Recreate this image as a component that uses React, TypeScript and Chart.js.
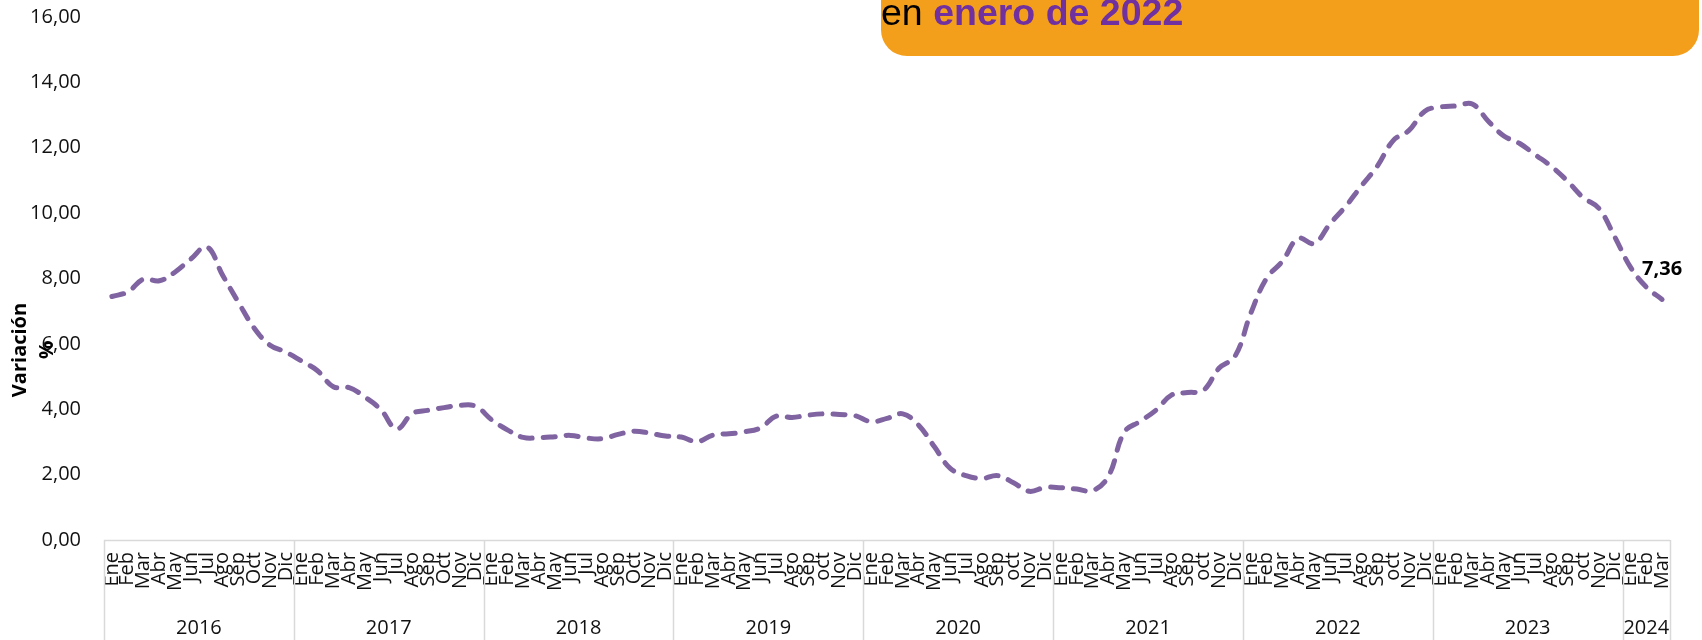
import React, { useEffect, useRef } from "react";
import { Chart, registerables } from "chart.js";

Chart.register(...registerables);

const MONTHS_UPPER_OCT = ["Ene", "Feb", "Mar", "Abr", "May", "Jun", "Jul", "Ago", "Sep", "Oct", "Nov", "Dic"];
const MONTHS_LOWER_OCT = ["Ene", "Feb", "Mar", "Abr", "May", "Jun", "Jul", "Ago", "Sep", "oct", "Nov", "Dic"];
const MONTHS_2024 = ["Ene", "Feb", "Mar"];

const YEARS = ["2016", "2017", "2018", "2019", "2020", "2021", "2022", "2023", "2024"];

const v2016 = [7.45, 7.59, 7.98, 7.93, 8.2, 8.6, 8.97, 8.1, 7.27, 6.48, 5.96, 5.75];
const v2017 = [5.47, 5.18, 4.69, 4.66, 4.37, 3.99, 3.4, 3.87, 3.97, 4.05, 4.12, 4.09];
const v2018 = [3.68, 3.37, 3.14, 3.13, 3.16, 3.2, 3.12, 3.1, 3.23, 3.33, 3.27, 3.18];
const v2019 = [3.15, 3.01, 3.21, 3.25, 3.31, 3.43, 3.79, 3.75, 3.82, 3.86, 3.84, 3.8];
const v2020 = [3.62, 3.72, 3.86, 3.51, 2.85, 2.19, 1.97, 1.88, 1.97, 1.75, 1.49, 1.61];
const v2021 = [1.6, 1.56, 1.51, 1.95, 3.3, 3.63, 3.97, 4.44, 4.51, 4.58, 5.26, 5.62];
const v2022 = [6.94, 8.01, 8.53, 9.23, 9.07, 9.67, 10.21, 10.84, 11.44, 12.22, 12.53, 13.12];
const v2023 = [13.25, 13.28, 13.34, 12.82, 12.36, 12.13, 11.78, 11.43, 10.99, 10.48, 10.15, 9.28];
const v2024 = [8.35, 7.74, 7.36];

const YEAR_MONTHS = [
  MONTHS_UPPER_OCT,
  MONTHS_UPPER_OCT,
  MONTHS_UPPER_OCT,
  MONTHS_LOWER_OCT,
  MONTHS_LOWER_OCT,
  MONTHS_LOWER_OCT,
  MONTHS_LOWER_OCT,
  MONTHS_LOWER_OCT,
  MONTHS_2024,
];
const YEAR_VALUES = [v2016, v2017, v2018, v2019, v2020, v2021, v2022, v2023, v2024];

const LAST_LABEL = "7,36";
const Y_TITLE = ["Variación", "%"];

const FONT = "'Open Sans', 'Noto Sans', sans-serif";

export default function App() {
  const ref = useRef<HTMLCanvasElement | null>(null);

  useEffect(() => {
    if (!ref.current) return;
    const labels: string[] = [];
    const values: number[] = [];
    YEAR_MONTHS.forEach((m, i) => {
      labels.push(...m);
      values.push(...YEAR_VALUES[i]);
    });

    const decorPlugin = {
      id: "decor",
      afterDraw(chart: any) {
        const ctx = chart.ctx;
        const xs = chart.scales.x;
        const H = chart.height;
        ctx.save();
        ctx.strokeStyle = "#D9D9D9";
        ctx.lineWidth = 1.5;
        ctx.beginPath();
        ctx.moveTo(xs.left, xs.top + 0.5);
        ctx.lineTo(xs.right, xs.top + 0.5);
        const bounds: number[] = [xs.left];
        let idx = 0;
        YEAR_MONTHS.forEach((m, i) => {
          idx += m.length;
          if (i < YEAR_MONTHS.length - 1) {
            const b = (xs.getPixelForValue(idx - 1) + xs.getPixelForValue(idx)) / 2;
            bounds.push(b);
          }
        });
        bounds.push(xs.right);
        bounds.forEach((b) => {
          ctx.moveTo(Math.round(b) + 0.5, xs.top);
          ctx.lineTo(Math.round(b) + 0.5, H);
        });
        ctx.stroke();
        ctx.fillStyle = "#111";
        ctx.font = `20px ${FONT}`;
        ctx.textAlign = "center";
        ctx.textBaseline = "middle";
        YEARS.forEach((y, i) => {
          ctx.fillText(y, (bounds[i] + bounds[i + 1]) / 2, 628);
        });

        // y title
        ctx.font = `bold 20px ${FONT}`;
        ctx.fillStyle = "#000";
        ctx.translate(20, 350);
        ctx.rotate(-Math.PI / 2);
        ctx.fillText(Y_TITLE[0], 0, 0);
        ctx.fillText(Y_TITLE[1], 0, 27);
        ctx.restore();

        // last label
        const meta = chart.getDatasetMeta(0);
        const pt = meta.data[meta.data.length - 1];
        ctx.save();
        ctx.font = `bold 20px ${FONT}`;
        ctx.fillStyle = "#000";
        ctx.textAlign = "center";
        ctx.textBaseline = "middle";
        ctx.fillText(LAST_LABEL, pt.x, pt.y - 30);
        ctx.restore();
      },
    };

    const chart = new Chart(ref.current, {
      type: "line",
      data: {
        labels,
        datasets: [
          {
            data: values,
            borderColor: "#8064A2",
            borderWidth: 5,
            borderDash: [12, 11],
            borderCapStyle: "round",
            tension: 0.4,
            pointRadius: 0,
            fill: false,
          },
        ],
      },
      options: {
        animation: false,
        responsive: false,
        maintainAspectRatio: false,
        layout: { padding: { top: 17, right: 32, left: 0, bottom: 0 } },
        plugins: { legend: { display: false }, tooltip: { enabled: false } },
        scales: {
          x: {
            type: "category",
            offset: true,
            grid: { display: false, drawTicks: false },
            border: { display: false },
            ticks: {
              autoSkip: false,
              maxRotation: 90,
              minRotation: 90,
              padding: 12,
              color: "#111",
              font: { family: FONT, size: 20 },
            },
            afterFit(scale: any) {
              scale.height = 100;
              scale.paddingLeft = 0;
              scale.paddingRight = 0;
            },
          },
          y: {
            min: 0,
            max: 16,
            grid: { display: false, drawTicks: false },
            border: { display: false },
            ticks: {
              stepSize: 2,
              padding: 23,
              color: "#111",
              font: { family: FONT, size: 20 },
              callback: (v: any) => Number(v).toFixed(2).replace(".", ","),
            },
            afterFit(scale: any) {
              scale.width = 104;
              scale.paddingTop = 0;
              scale.paddingBottom = 0;
            },
          },
        },
      },
      plugins: [decorPlugin],
    });
    return () => chart.destroy();
  }, []);

  return (
    <div
      style={{
        position: "fixed",
        left: 0,
        top: 0,
        width: 1702,
        height: 640,
        background: "#fff",
        overflow: "hidden",
      }}
    >
      <canvas ref={ref} width={1702} height={640} style={{ width: 1702, height: 640, display: "block" }} />
      <div
        style={{
          position: "absolute",
          left: 881,
          top: -70,
          width: 818,
          height: 126,
          background: "#F49F1C",
          borderRadius: 26,
        }}
      />
      <div
        style={{
          position: "absolute",
          left: 881,
          top: -7,
          fontFamily: "'Liberation Sans', Arial, sans-serif",
          fontSize: 37.5,
          lineHeight: "38px",
          whiteSpace: "nowrap",
          color: "#000",
        }}
      >
        en <span style={{ fontWeight: "bold", color: "#7030A0" }}>enero de 2022</span>
      </div>
    </div>
  );
}
